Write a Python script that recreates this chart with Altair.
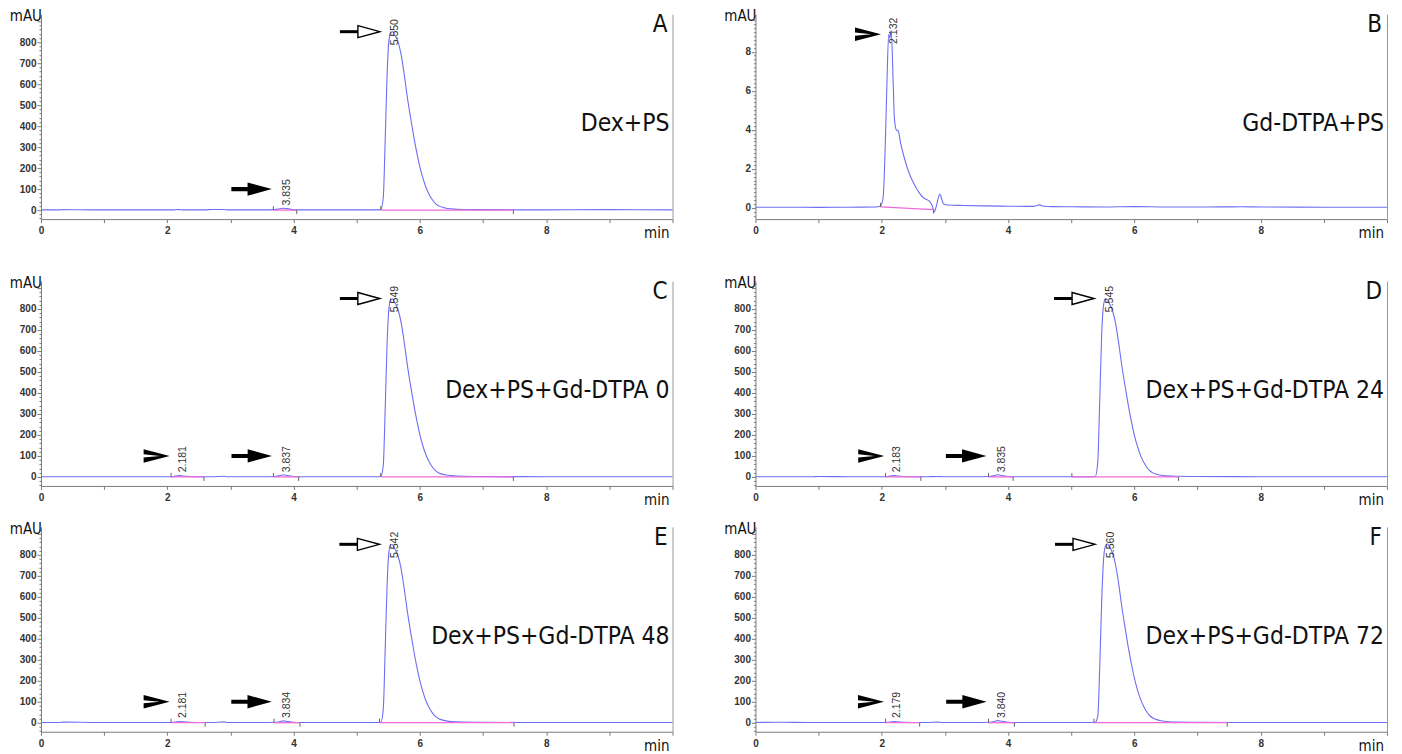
import altair as alt
import pandas as pd

# ---------------- data ----------------
t_dex = [0, 0.3, 0.35, 0.9, 1.0, 1.5, 2.0, 2.1, 2.15, 2.2,
         2.25, 2.35, 2.6, 2.7, 2.9, 2.95, 3.0, 3.5, 3.7, 3.78,
         3.84, 3.9, 4.0, 4.1, 4.5, 5.0, 5.3, 5.38, 5.42, 5.45,
         5.48, 5.51, 5.54, 5.57, 5.6, 5.65, 5.7, 5.75, 5.8, 5.85,
         5.9, 5.95, 6.0, 6.05, 6.1, 6.15, 6.2, 6.25, 6.3, 6.4,
         6.5, 6.7, 7.0, 8.0, 9.0, 10.0]

v_A = [1, 1, 2, 1, 1, 1, 1, 1, 3, 2,
       1, 1, 1, 3, 3, 1, 1, 1, 2, 6,
       9, 7, 2, 1, 1, 1, 1, 2, 60, 330,
       640, 810, 845, 850, 835, 805, 745, 650, 540, 445,
       355, 275, 205, 150, 105, 72, 48, 30, 20, 10,
       6, 3, 2, 1, 2, 1]
v_C = [1, 1, 1, 1, 1, 1, 1, 2, 5, 6,
       4, 2, 1, 1, 3, 1, 1, 1, 2, 6,
       10, 7, 2, 1, 1, 1, 1, 2, 55, 320,
       630, 805, 845, 848, 832, 800, 740, 645, 535, 440,
       350, 270, 200, 145, 102, 70, 46, 29, 19, 10,
       6, 3, 2, 1, 1, 1]
v_D = [1, 1, 1, 1, 2, 1, 1, 2, 5, 6,
       4, 2, 1, 1, 2, 1, 1, 1, 2, 6,
       10, 7, 2, 1, 1, 1, 1, 2, 70, 350,
       660, 815, 848, 845, 828, 795, 735, 640, 532, 438,
       348, 268, 198, 144, 100, 69, 45, 28, 18, 9,
       5, 3, 2, 1, 1, 1]
v_E = [1, 1, 3, 1, 1, 1, 1, 2, 5, 6,
       4, 2, 1, 1, 4, 1, 1, 1, 2, 5,
       9, 6, 2, 1, 1, 1, 1, 2, 65, 345,
       650, 815, 850, 848, 830, 798, 738, 642, 533, 438,
       349, 268, 199, 145, 101, 70, 46, 29, 19, 10,
       5, 3, 2, 1, 1, 1]
v_F = [1, 2, 2, 1, 1, 1, 1, 2, 5, 6,
       4, 2, 1, 1, 3, 1, 1, 1, 2, 6,
       10, 7, 2, 1, 1, 1, 1, 2, 30, 250,
       560, 770, 840, 852, 842, 812, 755, 665, 555, 458,
       365, 285, 212, 155, 110, 76, 50, 32, 21, 11,
       6, 3, 2, 1, 1, 1]

t_B = [0, 0.5, 1.0, 1.5, 1.9, 1.98, 2.02, 2.05, 2.08, 2.11,
       2.13, 2.15, 2.18, 2.2, 2.23, 2.26, 2.3, 2.35, 2.4, 2.45,
       2.5, 2.55, 2.6, 2.65, 2.7, 2.75, 2.8, 2.83, 2.86, 2.89,
       2.92, 2.95, 2.98, 3.05, 3.3, 3.6, 4.0, 4.4, 4.47, 4.5,
       4.55, 4.7, 5.0, 5.5, 6.0, 6.5, 7.0, 7.7, 8.0, 9.0,
       10.0]
v_B = [0.04, 0.04, 0.03, 0.04, 0.05, 0.1, 0.5, 2.6, 6.2, 8.9,
       8.7, 9.1, 6.5, 4.6, 4.0, 3.95, 3.3, 2.65, 2.1, 1.65,
       1.3, 1.0, 0.75, 0.55, 0.45, 0.36, 0.1, -0.2, 0.05, 0.45,
       0.72, 0.45, 0.2, 0.15, 0.13, 0.11, 0.09, 0.08, 0.14, 0.16,
       0.1, 0.07, 0.06, 0.05, 0.07, 0.05, 0.05, 0.06, 0.05, 0.04,
       0.04]

peaks_A = [3.835, 5.550]
peaks_B = [2.132]
peaks_C = [2.181, 3.837, 5.549]
peaks_D = [2.183, 3.835, 5.545]
peaks_E = [2.181, 3.834, 5.542]
peaks_F = [2.179, 3.840, 5.560]

# integration start / end markers and baselines
start_A, end_A = [3.68, 5.38], [4.05, 7.48]
start_B, end_B = [1.98], [2.82]
base_B_start, base_B_end = [0.06], [-0.08]
start_C, end_C = [2.06, 3.68, 5.38], [2.58, 4.08, 7.48]
start_D, end_D = [2.06, 3.69, 5.01], [2.62, 4.08, 6.70]
start_E, end_E = [2.06, 3.69, 5.36], [2.60, 4.10, 7.49]
start_F, end_F = [2.06, 3.69, 5.36], [2.60, 4.10, 7.47]

letters = ["A", "B", "C", "D", "E", "F"]
names = ["Dex+PS", "Gd-DTPA+PS", "Dex+PS+Gd-DTPA 0", "Dex+PS+Gd-DTPA 24",
         "Dex+PS+Gd-DTPA 48", "Dex+PS+Gd-DTPA 72"]

# ---------------- style ----------------
BLUE = "#6e6ef4"
PINK = "#f06ad8"
AXIS_C = "#7a7a7a"
COND = "DejaVu Sans Condensed"
SANS = "Liberation Sans"
W, H = 632, 205
X_DOMAIN = [0, 10]
Y_DEX = [-43, 933]
Y_GD = [-0.57, 9.92]

FILLED_ARROW = "M-1,-0.1L-0.2,-0.1L-0.2,-0.33L1,0L-0.2,0.33L-0.2,0.1L-1,0.1Z"
OPEN_SHAFT = "M-1,-0.075L-0.08,-0.075L-0.08,0.075L-1,0.075Z"
OPEN_HEAD = "M-0.1,-0.3L1,0L-0.1,0.3Z"
CHEVRON = "M-1,-0.52L1,0L-1,0.52L-1,0.12L0.25,0L-1,-0.12Z"


def one(text):
    return pd.DataFrame({"s": [text]})


def make_panel(letter, name, t, v, peaks, starts, ends, kind, bottom_pad,
               base_s=None, base_e=None):
    ydom = Y_DEX if kind == "dex" else Y_GD
    ppu = H / (ydom[1] - ydom[0])
    tlen = 4 / ppu
    xs = alt.Scale(domain=X_DOMAIN, nice=False, zero=False)
    ys = alt.Scale(domain=ydom, nice=False, zero=False)
    if kind == "dex":
        yvals = list(range(-40, 921, 20))
        ymajor = "datum.value % 100 === 0"
        ylab = ("datum.value % 100 === 0 && datum.value >= 0 && datum.value <= 800"
                " ? format(datum.value, 'd') : ''")
    else:
        yvals = [round(-0.4 + 0.2 * i, 1) for i in range(52)]
        ymajor = "abs(datum.value / 2 - round(datum.value / 2)) < 0.001"
        ylab = ("abs(datum.value / 2 - round(datum.value / 2)) < 0.001 && datum.value > -0.01"
                " && datum.value < 8.01 ? format(datum.value, 'd') : ''")
    if base_s is None:
        base_s = [0] * len(starts)
        base_e = [0] * len(ends)

    xaxis = alt.Axis(
        values=[i * 0.5 for i in range(21)],
        labelExpr="datum.value % 2 === 0 && datum.value < 9.9 ? format(datum.value, 'd') : ''",
        tickSize=3.5, orient="bottom",
        labelFontSize=10, labelFont=SANS, labelFontWeight="bold", labelColor="#333",
        labelPadding=3, labelFlush=False, labelOverlap=False, domainColor=AXIS_C,
        tickColor=AXIS_C, grid=False, title=None)
    yaxis = alt.Axis(
        values=yvals, labelExpr=ylab,
        tickSize={"condition": {"test": ymajor, "value": 4}, "value": 2},
        labelFontSize=10, labelFont=SANS, labelFontWeight="bold", labelColor="#333",
        labelPadding=1, labelFlush=False, labelOverlap=False, domainColor=AXIS_C,
        tickColor=AXIS_C, grid=False, title=None)
    raxis = alt.Axis(orient="right", ticks=False, labels=False, domain=True,
                     domainColor="#9a9a9a", grid=False, title=None)

    trace = alt.Chart(pd.DataFrame({"t": t, "v": v})).mark_line(
        color=BLUE, strokeWidth=1.1, interpolate="monotone").encode(
        x=alt.X("t:Q", scale=xs, axis=xaxis),
        y=alt.Y("v:Q", scale=ys, axis=yaxis))

    seg = alt.Chart(pd.DataFrame({"x1": starts, "x2": ends, "y1": base_s, "y2": base_e})).mark_rule(
        color=PINK, strokeWidth=1.3).encode(
        x=alt.X("x1:Q", scale=xs), x2="x2:Q",
        y=alt.Y("y1:Q", scale=ys, axis=raxis), y2="y2:Q")

    mk_x = list(starts) + list(ends)
    mk_y0 = list(base_s) + list(base_e)
    mk_y1 = [b + tlen for b in base_s] + [b - tlen for b in base_e]
    marks = alt.Chart(pd.DataFrame({"x": mk_x, "y0": mk_y0, "y1": mk_y1})).mark_rule(
        color="#666", strokeWidth=1).encode(
        x=alt.X("x:Q", scale=xs),
        y=alt.Y("y0:Q", scale=ys, axis=None), y2="y1:Q")

    # annotation positions derived from the peak list
    lab_y, chev, fill_a, open_a = [], [], [], []
    for p in peaks:
        if kind == "gd":
            lab_y.append(8.4)
            chev.append((p - 0.35, 8.9))
        elif p < 3:
            lab_y.append(22)
            chev.append((p - 0.35, 100))
        elif p < 5:
            lab_y.append(22)
            fill_a.append((p - 0.5, 100))
        else:
            lab_y.append(785)
            open_a.append((p - 0.5, 850))

    labels = alt.Chart(pd.DataFrame({"t": peaks, "y": lab_y,
                                     "s": ["%.3f" % p for p in peaks]})).mark_text(
        angle=270, align="left", baseline="middle", dy=4, fontSize=10.5, font=SANS,
        color="#333").encode(
        x=alt.X("t:Q", scale=xs), y=alt.Y("y:Q", scale=ys, axis=None), text="s:N")

    layers = [trace, seg, marks, labels]

    def pts(lst, shape, size, **kw):
        df = pd.DataFrame({"x": [a[0] for a in lst], "y": [a[1] for a in lst]})
        return alt.Chart(df).mark_point(shape=shape, size=size, opacity=1, **kw).encode(
            x=alt.X("x:Q", scale=xs), y=alt.Y("y:Q", scale=ys, axis=None))

    if chev:
        layers.append(pts(chev, CHEVRON, 676, filled=True, color="black", strokeWidth=0))
    if fill_a:
        layers.append(pts(fill_a, FILLED_ARROW, 1640, filled=True, color="black", strokeWidth=0))
    if open_a:
        layers.append(pts(open_a, OPEN_SHAFT, 1600, filled=True, color="black", strokeWidth=0))
        layers.append(pts(open_a, OPEN_HEAD, 1600, filled=True, fill="white",
                          stroke="black", strokeWidth=1.4))

    layers.append(alt.Chart(one(letter)).mark_text(
        align="right", baseline="middle", fontSize=24, font=COND, color="#111").encode(
        x=alt.value(W - 5), y=alt.value(11), text="s:N"))
    layers.append(alt.Chart(one(name)).mark_text(
        align="right", baseline="middle", fontSize=24.5, font=COND, color="#111").encode(
        x=alt.value(W - 3), y=alt.value(110), text="s:N"))
    layers.append(alt.Chart(one("mAU")).mark_text(
        align="right", baseline="alphabetic", fontSize=15, font=COND, color="#111").encode(
        x=alt.value(1), y=alt.value(7), text="s:N"))
    layers.append(alt.Chart(one("min")).mark_text(
        align="right", baseline="alphabetic", fontSize=15, font=COND, color="#111").encode(
        x=alt.value(W - 3), y=alt.value(H + 19), text="s:N"))
    # invisible layout anchor
    layers.append(alt.Chart(one("")).mark_rule(opacity=0, strokeWidth=0.5).encode(
        x=alt.value(-33), y=alt.value(-6), y2=alt.value(H + bottom_pad)))

    return alt.layer(*layers).resolve_axis(y="independent").properties(width=W, height=H)


pA = make_panel(letters[0], names[0], t_dex, v_A, peaks_A, start_A, end_A, "dex", 43)
pB = make_panel(letters[1], names[1], t_B, v_B, peaks_B, start_B, end_B, "gd", 43,
                base_B_start, base_B_end)
pC = make_panel(letters[2], names[2], t_dex, v_C, peaks_C, start_C, end_C, "dex", 10)
pD = make_panel(letters[3], names[3], t_dex, v_D, peaks_D, start_D, end_D, "dex", 10)
pE = make_panel(letters[4], names[4], t_dex, v_E, peaks_E, start_E, end_E, "dex", 10)
pF = make_panel(letters[5], names[5], t_dex, v_F, peaks_F, start_F, end_F, "dex", 10)

row1 = alt.hconcat(pA, pB, spacing=83, bounds="flush")
row2 = alt.hconcat(pC, pD, spacing=83, bounds="flush")
row3 = alt.hconcat(pE, pF, spacing=83, bounds="flush")

chart = alt.vconcat(row1, row2, row3, spacing=13, bounds="full").properties(
    padding={"left": 0, "top": 0, "right": 4, "bottom": 0},
    background="white").configure_view(stroke=None)

chart.save("out.html", embed_options={"renderer": "svg", "actions": False})
